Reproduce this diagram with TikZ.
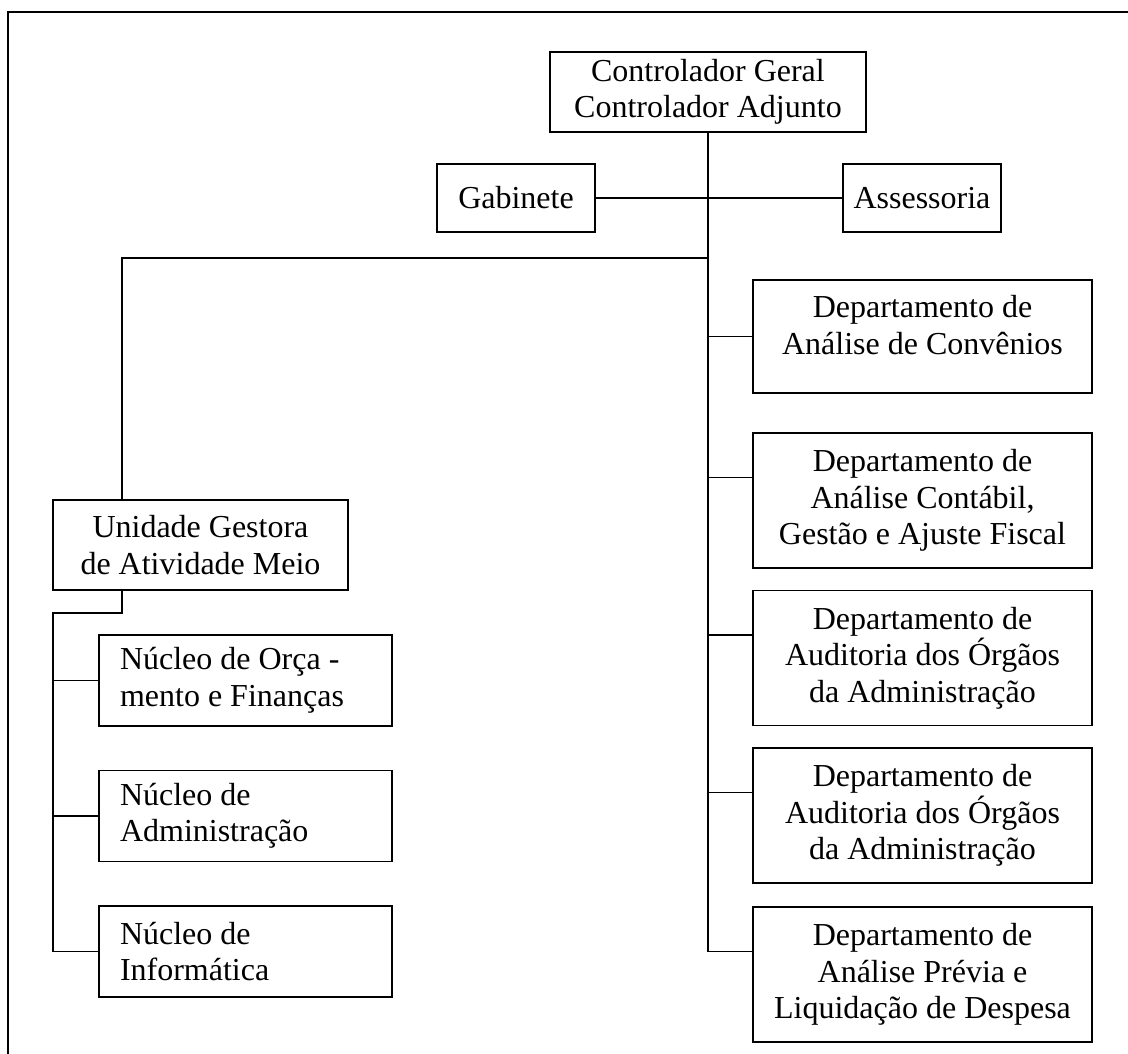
\documentclass[tikz,border=0pt]{standalone}
\usepackage{fontspec}
\setmainfont{Liberation Serif}
\usepackage{tikz}

\tikzset{
  box/.style={draw,rectangle,line width=1.5pt,inner sep=0pt,align=center},
  dept/.style={box,minimum width=339pt,minimum height=135pt},
  nucleo/.style={box,align=flush left,text width=251pt,minimum width=293pt,minimum height=91pt}
}

\begin{document}
\begin{tikzpicture}[x=1pt,y=-1pt,line width=1.4pt,
  every node/.style={font=\fontsize{32}{36.5}\selectfont}]
\useasboundingbox (0,0) rectangle (1128,1054);
\draw[line width=2.4pt] (8,1054) -- (8,12) -- (1128,12);

\node[box,minimum width=316pt,minimum height=80pt] (ctrl) at (708,92) {Controlador Geral\\Controlador Adjunto};
\node[box,minimum width=158pt,minimum height=68pt] (gab) at (516,198) {Gabinete};
\node[box,minimum width=158pt,minimum height=68pt] (ass) at (922,198) {Assessoria};

\node[box,minimum width=339pt,minimum height=113pt,text depth=23pt] (conv) at (922.5,336.5) {Departamento de\\Análise de Convênios};
\node[dept] (cont) at (922.5,500.5) {Departamento de\\Análise Contábil,\\Gestão e Ajuste Fiscal};
\node[dept] (audA) at (922.5,658) {Departamento de\\Auditoria dos Órgãos\\da Administração};
\node[dept] (audB) at (922.5,815.5) {Departamento de\\Auditoria dos Órgãos\\da Administração};
\node[dept] (prev) at (922.5,974.5) {Departamento de\\Análise Prévia e\\Liquidação de Despesa};

\node[box,minimum width=295pt,minimum height=90pt] (unid) at (200.5,545) {Unidade Gestora\\de Atividade Meio};
\node[nucleo] (norc) at (245.5,680.5) {Núcleo de Orça -\\mento e Finanças};
\node[nucleo] (nadm) at (245.5,816) {Núcleo de\\Administração};
\node[nucleo] (ninf) at (245.5,951.5) {Núcleo de\\Informática};

\coordinate (jl) at (122,258);
\coordinate (lbus) at (53,613);

\foreach \n in {cont,audA,audB,prev}{
  \coordinate (\n-b) at ([yshift=23pt]\n.west);
  \draw (ctrl.south |- \n-b) -- (\n-b);
}
\draw (ctrl.south) -- (ctrl.south |- prev-b);
\draw (ctrl.south |- conv.west) -- (conv.west);
\draw (gab.east) -- (ass.west);

\draw (ctrl.south |- jl) -- (jl) -- (jl |- unid.north);
\draw (jl |- unid.south) |- (lbus) -- (lbus |- ninf.west) -- (ninf.west);
\draw (lbus |- norc.west) -- (norc.west);
\draw (lbus |- nadm.west) -- (nadm.west);
\end{tikzpicture}
\end{document}
